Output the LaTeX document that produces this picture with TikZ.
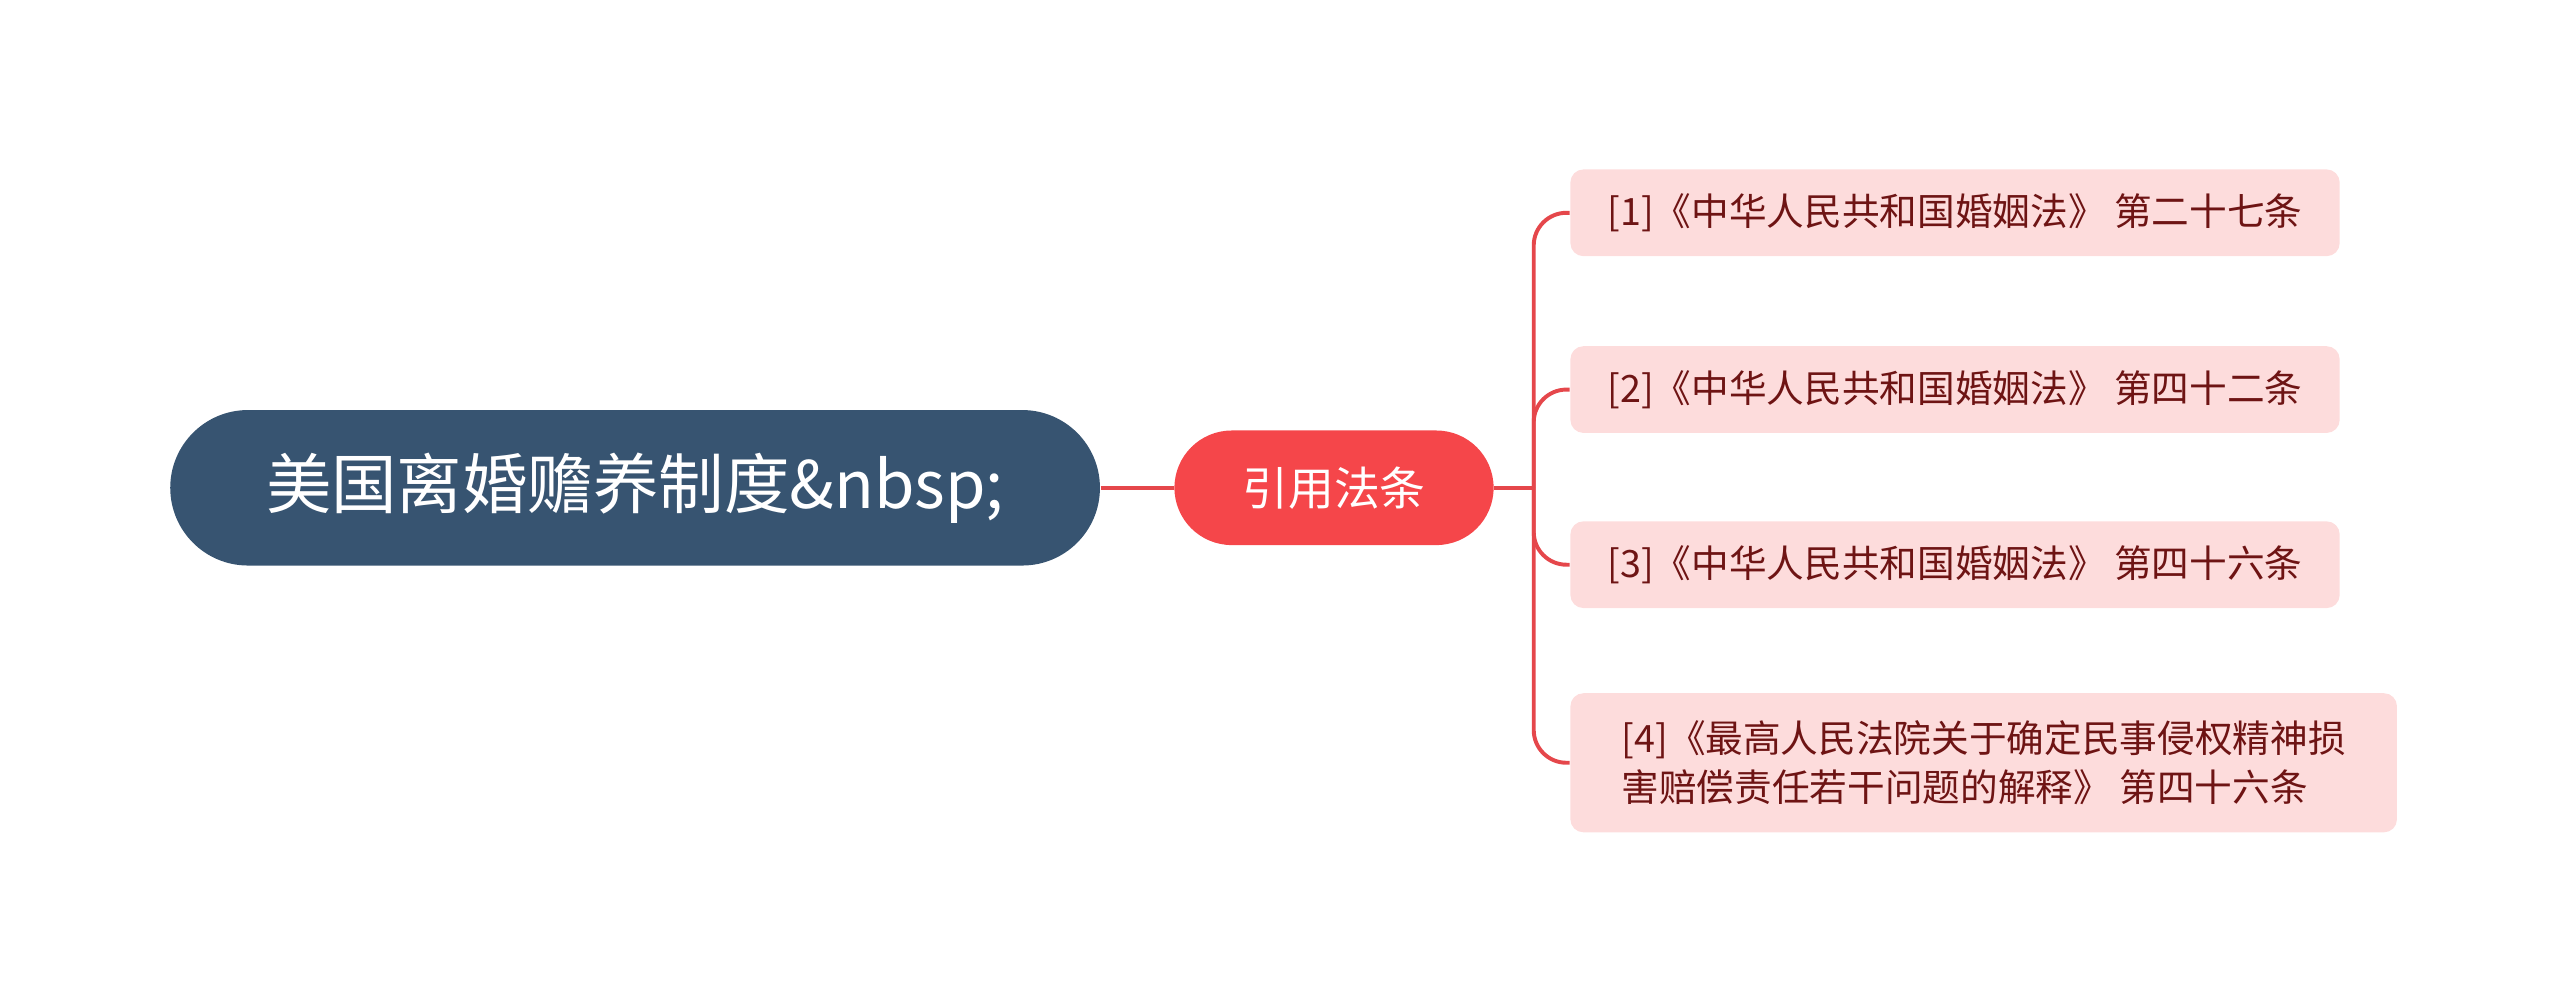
\documentclass[tikz,border=0pt]{standalone}
\usepackage{fontspec}
\setmainfont{Noto Sans CJK SC}
\usetikzlibrary{positioning}
\definecolor{rootblue}{HTML}{375471}
\definecolor{midred}{HTML}{F5464A}
\definecolor{leafpink}{HTML}{FDDCDC}
\definecolor{leaftext}{HTML}{6E1414}
\definecolor{linkred}{HTML}{E5474B}
\tikzset{
  rootbox/.style={fill=rootblue, rounded corners=23.75pt, minimum width=284pt, minimum height=47.5pt, text=white, font=\fontsize{20}{24}\selectfont},
  midbox/.style={fill=midred, rounded corners=17.5pt, minimum width=97.5pt, minimum height=35pt, text=white, font=\fontsize{14}{17}\selectfont},
  leafbox/.style={fill=leafpink, rounded corners=4pt, anchor=west, inner xsep=7pt, text=leaftext, align=left, font=\fontsize{11.5}{15}\selectfont},
  link/.style={draw=linkred, line width=1.2pt}
}
\begin{document}
\begin{tikzpicture}[x=0.5pt,y=-0.5pt]
  \useasboundingbox (0,0) rectangle (1564,611);
  \node[rootbox] (root) at (388,298) {美国离婚赡养制度\&nbsp;};
  \node[midbox] (law) at (815,298) {引用法条};

  \node[leafbox, minimum width=235pt, minimum height=26.5pt] (l1) at (959,130) {[1]《中华人民共和国婚姻法》 第二十七条};
  \node[leafbox, minimum width=235pt, minimum height=26.5pt] (l2) at (959,238) {[2]《中华人民共和国婚姻法》 第四十二条};
  \node[leafbox, minimum width=235pt, minimum height=26.5pt] (l3) at (959,345) {[3]《中华人民共和国婚姻法》 第四十六条};
  \node[leafbox, minimum width=252.5pt, minimum height=42.5pt] (l4) at (959,466) {[4]《最高人民法院关于确定民事侵权精神损\\害赔偿责任若干问题的解释》 第四十六条};

  \coordinate (fork) at (937,298);
  \draw[link] (root.east) -- (law.west);
  \draw[link] (law.east) -- (fork);
  \foreach \leaf in {l1,l2,l3,l4}
    \draw[link, rounded corners=10pt] (fork) |- (\leaf.west);
\end{tikzpicture}
\end{document}
